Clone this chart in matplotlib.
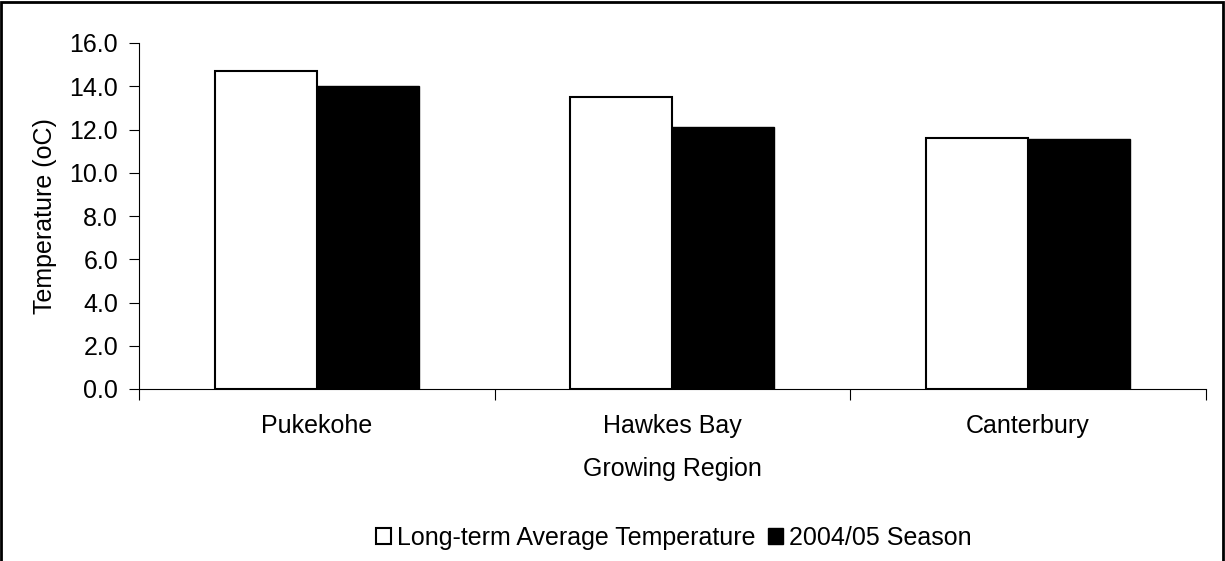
import numpy as np
import matplotlib
matplotlib.use('Agg')
import matplotlib.pyplot as plt
import matplotlib.ticker as tick
from matplotlib.patches import Rectangle

regions = ['Pukekohe', 'Hawkes Bay', 'Canterbury']
long_term = [14.7, 13.5, 11.6]
season = [14.0, 12.1, 11.55]
series_names = ['Long-term Average Temperature', '2004/05 Season']

plt.rcParams['font.family'] = ['Liberation Sans', 'DejaVu Sans']
plt.rcParams['font.size'] = 18

fig = plt.figure(figsize=(12.25, 5.61), dpi=100)
ax = fig.add_axes([139/1225, 1-389/561, 1066.5/1225, 346/561])

x = np.arange(len(regions))
w = 0.287
ax.bar(x - w/2, long_term, w, color='white', edgecolor='black', lw=1.5, label=series_names[0])
ax.bar(x + w/2, season, w, color='black', edgecolor='black', lw=1.0, label=series_names[1])

ax.set_xlim(-0.5, len(regions) - 0.5)
ax.set_ylim(0, 16)
ax.yaxis.set_major_locator(tick.MultipleLocator(2))
ax.yaxis.set_major_formatter(tick.FormatStrFormatter('%.1f'))
ax.set_xticks(np.arange(-0.5, len(regions), 1.0))
ax.set_xticklabels([])
ax.set_xticks(x, minor=True)
ax.set_xticklabels(regions, minor=True)
ax.tick_params(axis='x', which='major', direction='out', length=8, width=0.8)
ax.tick_params(axis='x', which='minor', length=0, pad=18)
ax.tick_params(axis='y', direction='out', length=7, width=0.8, pad=8)
for s in ['top', 'right']:
    ax.spines[s].set_visible(False)
ax.spines['left'].set_linewidth(0.8)
ax.spines['bottom'].set_linewidth(0.8)

ax.set_xlabel('Growing Region', labelpad=14)
ax.set_ylabel('Temperature (oC)', labelpad=9)

fig.legend(loc='center', bbox_to_anchor=(674/1225, 1-538/561), ncol=2, frameon=False,
           handlelength=0.6, handleheight=0.6, handletextpad=0.25, columnspacing=0.5,
           fontsize=18)

fig.patches.append(Rectangle((0.001, -0.1), 0.997, 1.097, transform=fig.transFigure,
                             fill=False, edgecolor='black', lw=2))

fig.savefig('out.png', dpi=100)
